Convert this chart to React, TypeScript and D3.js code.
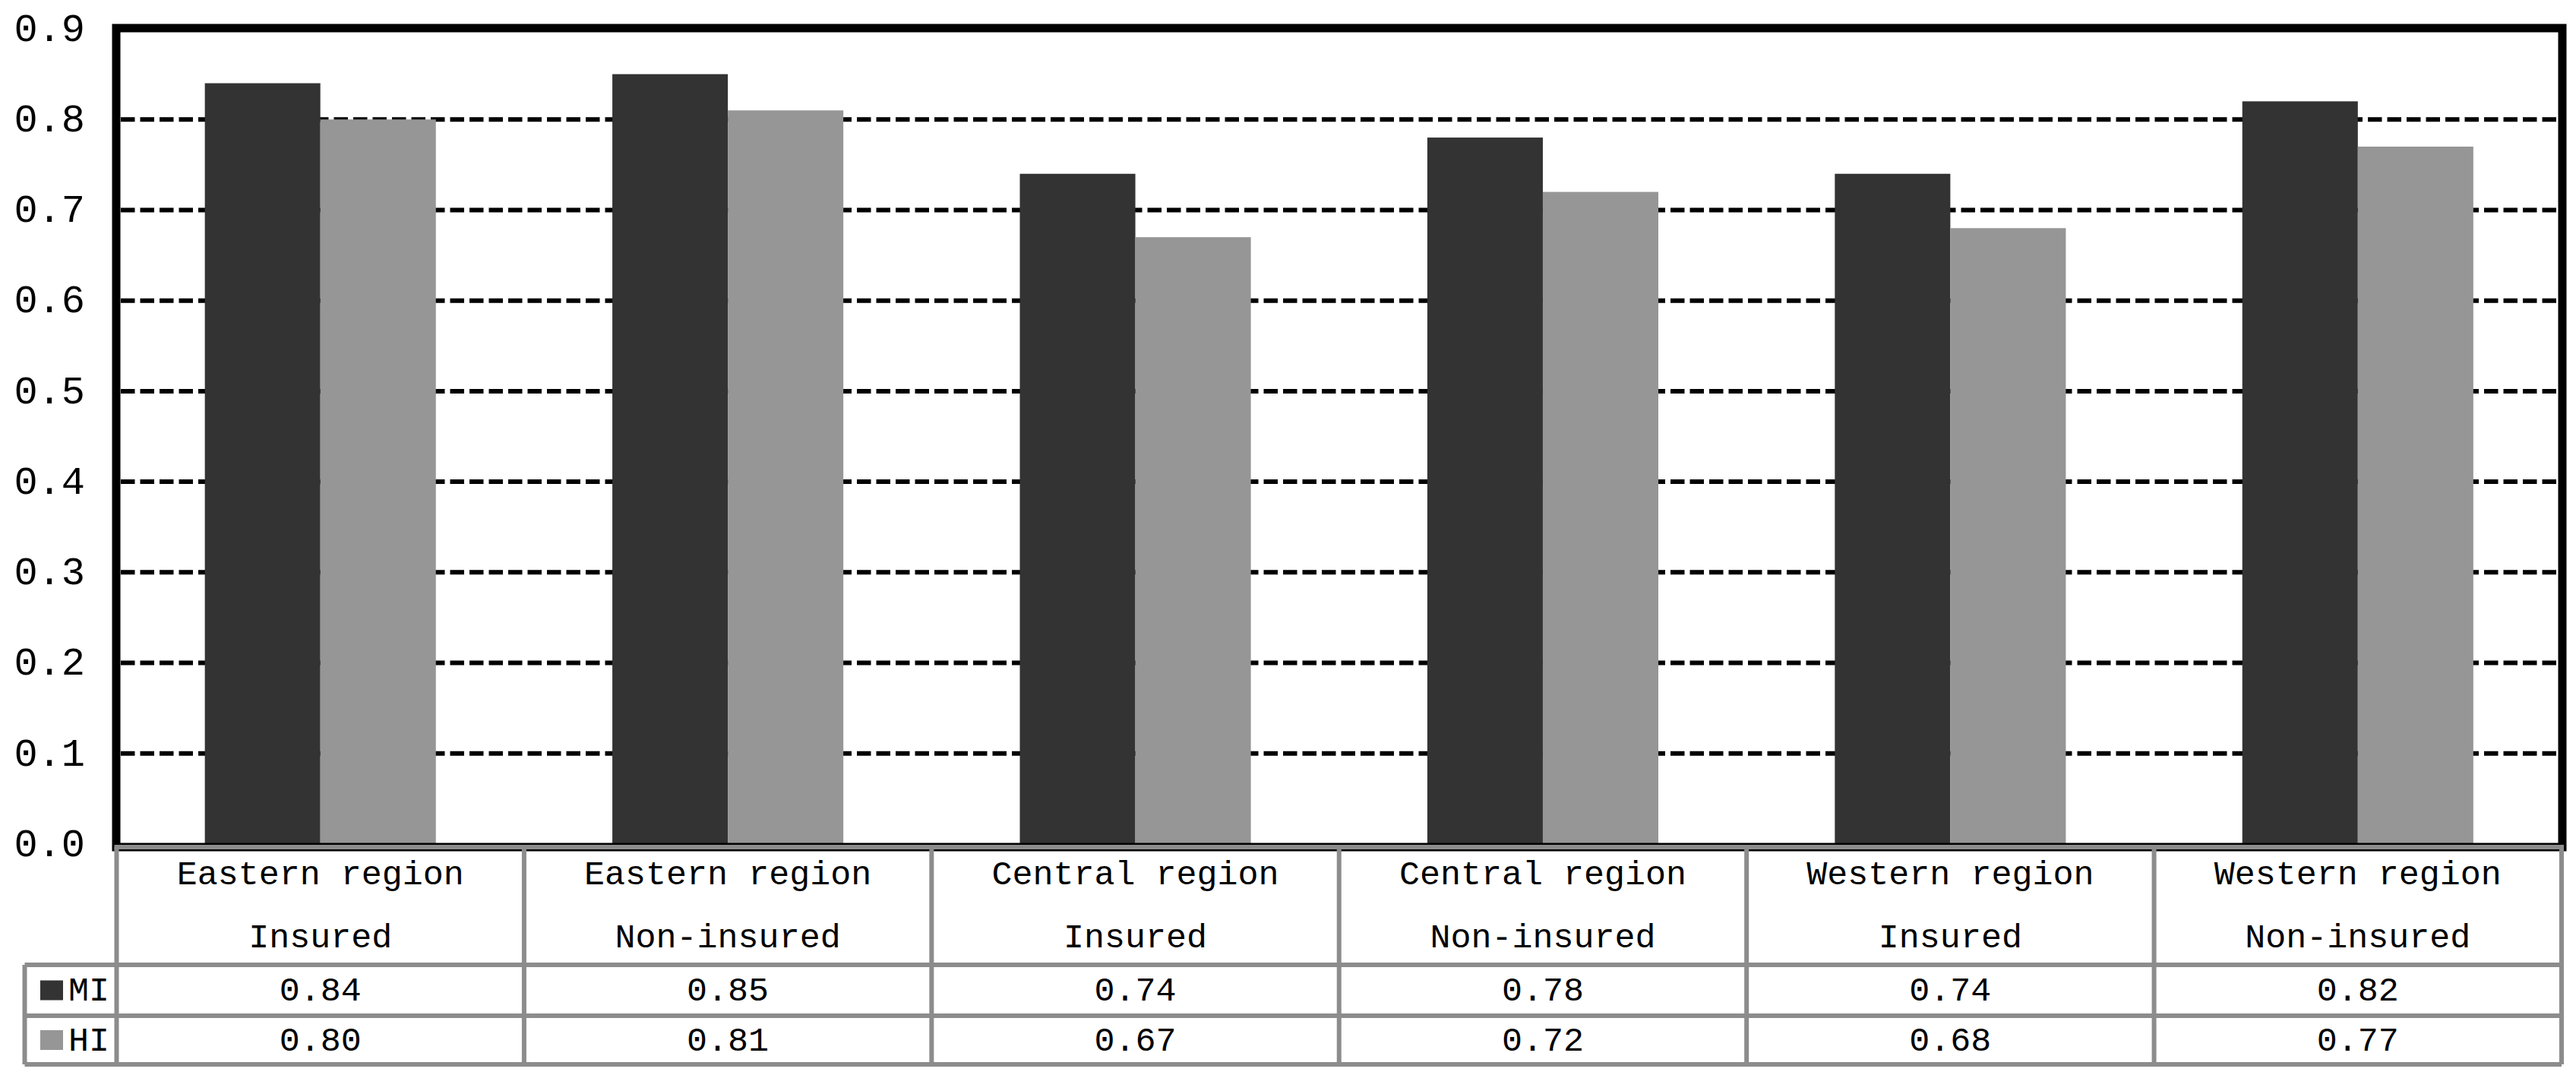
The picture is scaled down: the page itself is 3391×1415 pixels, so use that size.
import React from "react";
import * as d3 from "d3";

const categories = [
  ["Eastern region", "Insured"],
  ["Eastern region", "Non-insured"],
  ["Central region", "Insured"],
  ["Central region", "Non-insured"],
  ["Western region", "Insured"],
  ["Western region", "Non-insured"],
];
const seriesNames = ["MI", "HI"];
const miValues = [0.84, 0.85, 0.74, 0.78, 0.74, 0.82];
const hiValues = [0.8, 0.81, 0.67, 0.72, 0.68, 0.77];
const yTicks = [0, 0.1, 0.2, 0.3, 0.4, 0.5, 0.6, 0.7, 0.8, 0.9];
const seriesColors = ["#333333", "#969696"];

const W = 3391;
const H = 1415;
const FONT = "'Liberation Mono', 'DejaVu Sans Mono', monospace";

export default function App() {
  const tableLeft = 153.5;
  const tableRight = 3372;
  const legendLeft = 32.5;
  const plotTop = 37;
  const y0 = 1111;
  const y = d3.scaleLinear().domain([0, 0.9]).range([y0, 38]);
  const ids = categories.map((_, i) => String(i));
  const x0 = d3.scaleBand().domain(ids).range([tableLeft, tableRight]).padding(0);
  const bw = x0.bandwidth();
  const x1 = d3
    .scaleBand()
    .domain(seriesNames)
    .range([0, bw])
    .paddingInner(0)
    .paddingOuter(0.764);
  const series = [miValues, hiValues];
  const rowHeader = 1115;
  const rowMI = 1270;
  const rowHI = 1337;
  const rowEnd = 1401;
  const gray = "#8c8c8c";
  const fmt = d3.format(".2f");
  const tickFmt = d3.format(".1f");

  return (
    <svg
      width={W}
      height={H}
      style={{ position: "absolute", left: 0, top: 0, display: "block", background: "#fff" }}
    >
      <rect x={0} y={0} width={W} height={H} fill="#fff" />
      {/* gridlines */}
      {yTicks
        .filter((t) => t > 0 && t < 0.9)
        .map((t) => (
          <line
            key={"g" + t}
            x1={159}
            x2={3367}
            y1={y(t)}
            y2={y(t)}
            stroke="#000"
            strokeWidth={6}
            strokeDasharray="18.5 7"
          />
        ))}
      {/* bars */}
      {series.map((vals, si) =>
        vals.map((v, ci) => (
          <rect
            key={"b" + si + "-" + ci}
            x={(x0(String(ci)) as number) + (x1(seriesNames[si]) as number)}
            y={y(v)}
            width={x1.bandwidth()}
            height={y0 - y(v)}
            fill={seriesColors[si]}
          />
        ))
      )}
      {/* plot frame */}
      <rect
        x={153}
        y={plotTop}
        width={3373 - 153}
        height={1115 - plotTop}
        fill="none"
        stroke="#000"
        strokeWidth={11}
      />
      {/* y tick labels */}
      {yTicks.map((t) => (
        <text
          key={"t" + t}
          x={112}
          y={y(t) + 2}
          textAnchor="end"
          dominantBaseline="middle"
          fontFamily={FONT}
          fontSize={52}
          fill="#000"
        >
          {tickFmt(t)}
        </text>
      ))}
      {/* table lines */}
      <g stroke={gray} strokeWidth={6} fill="none">
        <line x1={tableLeft - 3} x2={tableRight + 3} y1={rowHeader} y2={rowHeader} />
        <line x1={legendLeft} x2={tableRight} y1={rowMI} y2={rowMI} />
        <line x1={legendLeft} x2={tableRight} y1={rowHI} y2={rowHI} />
        <line x1={legendLeft} x2={tableRight} y1={rowEnd} y2={rowEnd} />
        <line x1={legendLeft} x2={legendLeft} y1={rowMI} y2={rowEnd} />
        {ids.map((id) => (
          <line
            key={"v" + id}
            x1={x0(id) as number}
            x2={x0(id) as number}
            y1={rowHeader}
            y2={rowEnd}
          />
        ))}
        <line x1={tableRight} x2={tableRight} y1={rowHeader} y2={rowEnd} />
      </g>
      {/* header text */}
      {categories.map((c, i) => {
        const cx = (x0(String(i)) as number) + bw / 2;
        return (
          <g key={"h" + i} fontFamily={FONT} fontSize={45} fill="#000" textAnchor="middle">
            <text x={cx} y={1152} dominantBaseline="middle">
              {c[0]}
            </text>
            <text x={cx} y={1235} dominantBaseline="middle">
              {c[1]}
            </text>
          </g>
        );
      })}
      {/* legend cells */}
      {seriesNames.map((s, si) => {
        const rowTop = si === 0 ? rowMI : rowHI;
        const rowBottom = si === 0 ? rowHI : rowEnd;
        const cy = (rowTop + rowBottom) / 2;
        return (
          <g key={"l" + s}>
            <rect x={53} y={cy - 13} width={30} height={26} fill={seriesColors[si]} />
            <text
              x={90}
              y={cy + 2}
              dominantBaseline="middle"
              fontFamily={FONT}
              fontSize={45}
              fill="#000"
            >
              {s}
            </text>
            {series[si].map((v, ci) => (
              <text
                key={"v" + ci}
                x={(x0(String(ci)) as number) + bw / 2}
                y={cy + 2}
                textAnchor="middle"
                dominantBaseline="middle"
                fontFamily={FONT}
                fontSize={45}
                fill="#000"
              >
                {fmt(v)}
              </text>
            ))}
          </g>
        );
      })}
    </svg>
  );
}
